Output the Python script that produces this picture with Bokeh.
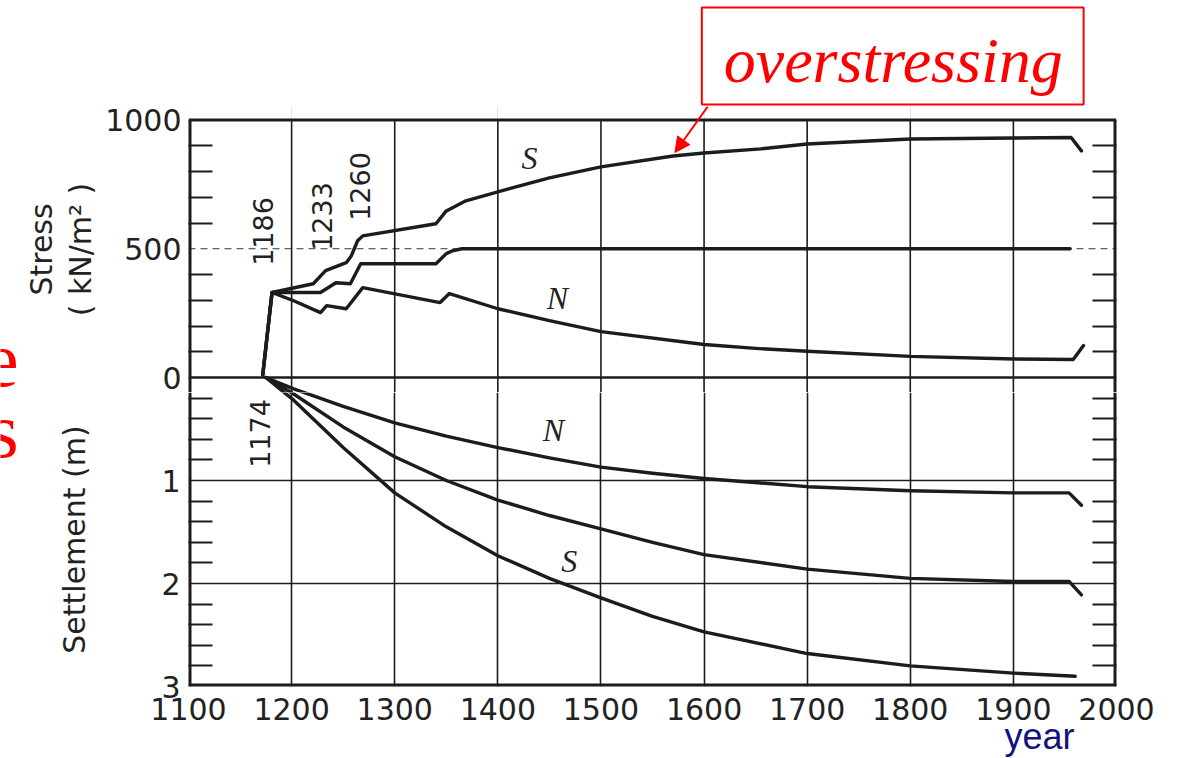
from math import pi
from bokeh.plotting import figure
from bokeh.layouts import row, column
from bokeh.models import (Range1d, FixedTicker, LinearAxis, Span, Label, Arrow, Title,
                          NormalHead, ColumnDataSource, BoxAnnotation)
from bokeh.embed import file_html
from bokeh.resources import INLINE

# ---------------- data ----------------
year_ticks = [1100, 1200, 1300, 1400, 1500, 1600, 1700, 1800, 1900, 2000]

# Stress (kN/m2)
s_stress_year = [1172, 1181, 1221, 1233, 1253, 1258, 1264, 1269, 1340, 1350, 1369,
                 1400, 1450, 1500, 1570, 1600, 1655, 1700, 1800, 1900, 1956, 1966]
s_stress = [10, 330, 364, 415, 446, 473, 531, 550, 597, 647, 686,
            721, 775, 818, 860, 872, 888, 907, 926, 930, 932, 880]

m_stress_year = [1172, 1181, 1228, 1243, 1257, 1262, 1267, 1340, 1350, 1356, 1365, 1955]
m_stress = [10, 330, 330, 368, 364, 403, 442, 442, 481, 492, 500, 500]

n_stress_year = [1172, 1181, 1202, 1228, 1234, 1253, 1269, 1344, 1353, 1400, 1450,
                 1500, 1600, 1650, 1700, 1800, 1900, 1958, 1968]
n_stress = [10, 330, 298, 252, 279, 267, 349, 291, 326, 267, 221,
            178, 128, 113, 102, 82, 72, 70, 124]

# Settlement (m)
n_settle_year = [1175, 1202, 1250, 1300, 1350, 1400, 1450, 1500, 1550, 1600, 1700,
                 1800, 1900, 1954, 1966]
n_settle = [0, 0.11, 0.28, 0.44, 0.57, 0.68, 0.78, 0.87, 0.93, 0.98, 1.06,
            1.10, 1.12, 1.12, 1.24]

m_settle_year = [1175, 1202, 1250, 1300, 1350, 1400, 1450, 1500, 1550, 1600, 1700,
                 1800, 1900, 1954, 1966]
m_settle = [0, 0.16, 0.48, 0.77, 1.00, 1.19, 1.34, 1.47, 1.60, 1.72, 1.86,
            1.95, 1.98, 1.98, 2.11]

s_settle_year = [1175, 1202, 1250, 1300, 1350, 1400, 1450, 1500, 1550, 1600, 1700,
                 1800, 1900, 1960]
s_settle = [0, 0.22, 0.68, 1.12, 1.45, 1.73, 1.95, 2.14, 2.32, 2.47, 2.68,
            2.80, 2.87, 2.90]

stress_ticks = [0, 500, 1000]
stress_minor = [100, 200, 300, 400, 600, 700, 800, 900]
settle_ticks = [1, 2, 3]
settle_minor = [0.2, 0.4, 0.6, 0.8, 1.2, 1.4, 1.6, 1.8, 2.2, 2.4, 2.6, 2.8]

SCALE = 400.0  # plot units per metre of settlement (drawn downward)

# ---------------- layout (page pixels) ----------------
W, H = 1177, 758
SW = 20          # left strip
HH = 106         # header band
SPLIT = 392      # boundary between stress and settlement panels
L, R = 185, 1116
Z, B = 377, 686  # zero line and bottom of chart
X0, X1 = 1100, 2000
K = (B - Z) / (3 * SCALE)  # px per plot unit
INK = "#1c1c1c"


def fx(px):
    return X0 + (px - L) * (X1 - X0) / (R - L)


def fy(py):
    return (Z - py) / K


curves = [
    (s_stress_year, s_stress, 1.0),
    (m_stress_year, m_stress, 1.0),
    (n_stress_year, n_stress, 1.0),
    (n_settle_year, n_settle, -SCALE),
    (m_settle_year, m_settle, -SCALE),
    (s_settle_year, s_settle, -SCALE),
]


def base_fig(h, ylo, yhi, bottom_border, x_axis):
    f = figure(width=W - SW, height=h, x_range=Range1d(X0, X1),
               y_range=Range1d(ylo, yhi), output_backend="svg", toolbar_location=None,
               x_axis_location="below" if x_axis else None,
               min_border_left=L - SW, min_border_right=W - R,
               min_border_top=0, min_border_bottom=bottom_border)
    f.background_fill_color = "white"
    f.border_fill_color = "white"
    f.outline_line_color = None
    f.ygrid.grid_line_color = None
    for xs, ys, k in curves:
        src = ColumnDataSource(dict(x=xs, y=[k * v for v in ys]))
        f.line("x", "y", source=src, line_color=INK, line_width=3.4,
               line_join="round", line_cap="round")
    return f


def style_yaxis(ax, ticker, overrides):
    ax.ticker = ticker
    ax.major_label_overrides = overrides
    ax.axis_line_color = None
    ax.major_tick_in = 0
    ax.major_tick_out = 0
    ax.minor_tick_in = 24
    ax.minor_tick_out = 0
    ax.minor_tick_line_color = INK
    ax.minor_tick_line_width = 2
    ax.major_label_text_font = "DejaVu Sans"
    ax.major_label_text_font_size = "30px"
    ax.major_label_text_color = "#222222"
    ax.major_label_standoff = 8
    ax.axis_label_text_font = "DejaVu Sans"
    ax.axis_label_text_font_size = "30px"
    ax.axis_label_text_font_style = "normal"
    ax.axis_label_text_color = "#222222"


def right_axis(f, ticker):
    f.add_layout(LinearAxis(ticker=ticker, axis_line_color=None, major_tick_in=0,
                            major_tick_out=0, minor_tick_in=24, minor_tick_out=0,
                            minor_tick_line_color=INK, minor_tick_line_width=2,
                            major_label_text_alpha=0, major_label_text_font_size="1px"),
                 "right")


def dlab(f, text, px, py, size, font="DejaVu Sans", angle=0.0, color="#222222",
         style="normal"):
    f.add_layout(Label(x=fx(px), y=fy(py), text=text, angle=angle,
                       text_font=font, text_font_size=size, text_color=color,
                       text_font_style=style, text_align="center",
                       text_baseline="middle"))


# ---------------- upper panel: stress ----------------
up = base_fig(SPLIT - HH, fy(SPLIT), fy(HH), 0, False)
up_ticker = FixedTicker(ticks=stress_ticks, minor_ticks=stress_minor)
style_yaxis(up.yaxis[0], up_ticker, {v: str(v) for v in stress_ticks})
up.yaxis[0].axis_label = "( kN/m² )"
up.yaxis[0].axis_label_standoff = 4
up.yaxis[0].major_label_standoff = 7
right_axis(up, up_ticker)
up.add_layout(Title(text="Stress", align="center", standoff=3,
                    text_font="DejaVu Sans", text_font_size="30px",
                    text_font_style="normal", text_color="#222222"), "left")

gx = year_ticks[1:-1]
up.segment(x0=gx, y0=[fy(SPLIT)] * len(gx), x1=gx, y1=[stress_ticks[-1]] * len(gx),
           line_color=INK, line_width=1.6)
up.segment(x0=[X0, X1], y0=[fy(SPLIT)] * 2, x1=[X0, X1], y1=[stress_ticks[-1]] * 2,
           line_color=INK, line_width=6)
up.add_layout(Span(location=stress_ticks[-1], dimension="width", line_color=INK,
                   line_width=3))
up.add_layout(Span(location=0, dimension="width", line_color=INK, line_width=2.6,
                   level="underlay"))
up.add_layout(Span(location=500, dimension="width", line_color="#333333",
                   line_width=1.2, line_dash="7 5", level="underlay"))

for t, px, py in [("1186", 260, 231), ("1233", 319, 216), ("1260", 357, 186)]:
    dlab(up, t, px, py, "27px", angle=pi / 2)
for t, px, py in [("S", 527, 157), ("N", 555, 297)]:
    dlab(up, t, px, py, "32px", font="Liberation Serif", style="italic")

up.add_layout(Arrow(end=NormalHead(size=15, fill_color="red", line_color="red"),
                    x_start=fx(706), y_start=fy(HH), x_end=fx(673), y_end=fy(152),
                    line_color="red", line_width=2))

# ---------------- lower panel: settlement ----------------
lo = base_fig(H - SPLIT, fy(B), fy(SPLIT), H - B, True)
lo_ticker = FixedTicker(ticks=[-SCALE * v for v in settle_ticks],
                        minor_ticks=[-SCALE * v for v in settle_minor])
style_yaxis(lo.yaxis[0], lo_ticker, {-SCALE * v: str(v) for v in settle_ticks})
lo.yaxis[0].axis_label = "Settlement (m)"
lo.yaxis[0].axis_label_standoff = 66
right_axis(lo, lo_ticker)

xa = lo.xaxis[0]
xa.ticker = FixedTicker(ticks=year_ticks)
xa.axis_line_color = None
xa.major_tick_in = 0
xa.major_tick_out = 0
xa.minor_tick_line_color = None
xa.major_label_text_font = "DejaVu Sans"
xa.major_label_text_font_size = "30px"
xa.major_label_text_color = "#222222"
xa.major_label_standoff = 11
lo.xgrid.ticker = FixedTicker(ticks=gx)
lo.xgrid.grid_line_color = INK
lo.xgrid.grid_line_width = 1.6

for v in settle_ticks[:-1]:
    lo.add_layout(Span(location=-SCALE * v, dimension="width", line_color=INK,
                       line_width=1.6, level="underlay"))
lo.add_layout(Span(location=-SCALE * settle_ticks[-1], dimension="width",
                   line_color=INK, line_width=6))
for xv in (X0, X1):
    lo.add_layout(Span(location=xv, dimension="height", line_color=INK, line_width=6))

dlab(lo, "1174", 257, 433, "27px", angle=pi / 2)
for t, px, py in [("N", 551, 429), ("S", 567, 560)]:
    dlab(lo, t, px, py, "32px", font="Liberation Serif", style="italic")

year_title = Title(text="year", align="right", offset=R - 1074,
                   text_font="Liberation Sans", text_font_size="36px",
                   text_font_style="normal", text_color="#12127a")
try:
    year_title.standoff = -17
except Exception:
    year_title.standoff = 0
lo.add_layout(year_title, "below")

# ---------------- header band: call-out (frame aligned with the chart, page px) ----
hd = figure(width=W - SW, height=HH, x_range=Range1d(L, R), y_range=Range1d(HH, 0),
            output_backend="svg", toolbar_location=None, x_axis_location=None,
            y_axis_location=None, min_border=0)
hd.outline_line_color = None
hd.grid.visible = False
hd.background_fill_color = "white"
hd.border_fill_color = "white"
hd.add_layout(BoxAnnotation(left=700, right=1083, top=7, bottom=104, fill_color=None,
                            fill_alpha=0, line_color="red", line_alpha=1.0,
                            line_width=2))
hd.add_layout(Label(x=892, y=60, text="overstressing", text_font="Liberation Serif",
                    text_font_style="italic", text_font_size="64px", text_color="red",
                    text_align="center", text_baseline="middle"))

# ---------------- left strip: clipped slide text ----------------
st = figure(width=SW, height=H, x_range=Range1d(0, SW), y_range=Range1d(H, 0),
            output_backend="svg", toolbar_location=None, x_axis_location=None,
            y_axis_location=None, min_border=0)
st.outline_line_color = None
st.grid.visible = False
st.background_fill_color = "white"
st.border_fill_color = "white"
for t, py in [("e", 360), ("s", 430)]:
    st.add_layout(Label(x=18, y=py, text=t, text_font="Liberation Serif",
                        text_font_size="78px", text_color="red", text_align="right",
                        text_baseline="middle"))

page = row(st, column(hd, up, lo, spacing=0), spacing=0)
open("out.html", "w").write(file_html(page, INLINE))
